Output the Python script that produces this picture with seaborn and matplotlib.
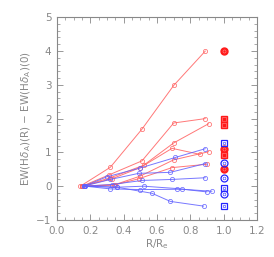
import matplotlib
matplotlib.use("Agg")
import matplotlib.pyplot as plt
import seaborn as sns
import pandas as pd
from matplotlib.ticker import MultipleLocator

# Red profiles
red_x = [
    [0.14, 0.32, 0.51, 0.70, 0.89],
    [0.15, 0.31, 0.51, 0.70, 0.89],
    [0.15, 0.32, 0.52, 0.70, 0.91],
    [0.15, 0.33, 0.50, 0.69, 0.86],
    [0.15, 0.35, 0.50, 0.70, 0.91],
    [0.15, 0.34, 0.49, 0.69, 0.90],
]
red_y = [
    [0.0, 0.56, 1.69, 2.98, 4.00],
    [0.0, 0.33, 0.75, 1.87, 2.00],
    [0.0, 0.25, 0.62, 1.28, 1.85],
    [0.0, 0.22, 0.55, 1.12, 0.94],
    [0.0, 0.05, 0.30, 0.78, 1.02],
    [0.0, 0.03, 0.22, 0.55, 0.65],
]
# Blue profiles
blue_x = [
    [0.16, 0.30, 0.50, 0.71, 0.89],
    [0.16, 0.32, 0.49, 0.68, 0.89],
    [0.16, 0.33, 0.51, 0.69, 0.89],
    [0.16, 0.36, 0.52, 0.72, 0.90],
    [0.17, 0.32, 0.50, 0.75, 0.93],
    [0.17, 0.36, 0.57, 0.68, 0.88],
]
blue_y = [
    [0.0, 0.28, 0.54, 0.85, 1.11],
    [0.0, 0.20, 0.38, 0.41, 0.67],
    [0.0, 0.05, 0.17, 0.20, 0.25],
    [0.0, -0.03, 0.00, -0.07, -0.17],
    [0.0, -0.08, -0.10, -0.09, -0.15],
    [0.0, -0.03, -0.21, -0.45, -0.59],
]
# Markers at R/Re = 1
red_end_y = [4.00, 2.00, 1.80, 1.10, 0.92, 0.52]
red_end_shape = ["o", "s", "s", "o", "s", "o"]
blue_end_y = [1.28, 0.68, 0.25, -0.05, -0.22, -0.58]
blue_end_shape = ["s", "o", "o", "s", "o", "s"]

rows = []
for i, (xs, ys) in enumerate(zip(red_x, red_y)):
    for x, y in zip(xs, ys):
        rows.append(dict(x=x, y=y, unit=f"r{i}", grp="red"))
for i, (xs, ys) in enumerate(zip(blue_x, blue_y)):
    for x, y in zip(xs, ys):
        rows.append(dict(x=x, y=y, unit=f"b{i}", grp="blue"))
df = pd.DataFrame(rows)

RED = "#ff6060"
BLUE = "#6060ff"

sns.set_style("white")
fig = plt.figure(figsize=(2.74, 2.57), dpi=100)
ax = fig.add_axes([0.208, 0.144, 0.730, 0.789])

for grp, col in [("red", RED), ("blue", BLUE)]:
    sub = df[df.grp == grp]
    sns.lineplot(data=sub, x="x", y="y", units="unit", estimator=None, sort=False,
                 color=col, lw=0.7, marker="o", markersize=3.0,
                 markerfacecolor="none", markeredgecolor=col, markeredgewidth=0.6,
                 alpha=0.85, ax=ax, legend=False)

for y, m in zip(red_end_y, red_end_shape):
    ax.plot([1.0], [y], marker=m, ms=5, mfc="#ff1a1a", mec="#ff1a1a", ls="none")
    ax.plot([1.0], [y], marker=m, ms=2.2, mfc="none", mec="#ff9090", mew=0.4, ls="none")
for y, m in zip(blue_end_y, blue_end_shape):
    ax.plot([1.0], [y], marker=m, ms=5, mfc="none", mec="#2222ff", mew=0.9, ls="none")
    ax.plot([1.0], [y], marker=m, ms=2.0, mfc="none", mec="#2222ff", mew=0.4, ls="none")

ax.set_xlim(0.0, 1.2)
ax.set_ylim(-1, 5)
ax.xaxis.set_major_locator(MultipleLocator(0.2))
ax.xaxis.set_minor_locator(MultipleLocator(0.05))
ax.yaxis.set_major_locator(MultipleLocator(1))
ax.yaxis.set_minor_locator(MultipleLocator(0.2))
ax.set_xticks([0.0, 0.2, 0.4, 0.6, 0.8, 1.0, 1.2])
ax.set_xticklabels(["0.0", "0.2", "0.4", "0.6", "0.8", "1.0", "1.2"])
ax.set_yticks([-1, 0, 1, 2, 3, 4, 5])
ax.set_yticklabels(["\u22121", "0", "1", "2", "3", "4", "5"])

grey = "#888888"
for s in ax.spines.values():
    s.set_color(grey)
    s.set_linewidth(0.8)
ax.tick_params(which="both", direction="in", top=True, right=True,
               bottom=True, left=True, color=grey, labelcolor=grey)
ax.tick_params(which="major", length=4, width=0.6, labelsize=7.5, pad=4)
ax.tick_params(which="minor", length=2, width=0.5)

ax.set_xlabel(r"R/R$_{\rm e}$", fontsize=7.5, color=grey, labelpad=1)
ax.set_ylabel(r"EW(H$\delta_{\rm A}$)(R) $-$ EW(H$\delta_{\rm A}$)(0)", fontsize=7.5,
              color=grey, labelpad=2)

fig.savefig("out.png", dpi=100)
